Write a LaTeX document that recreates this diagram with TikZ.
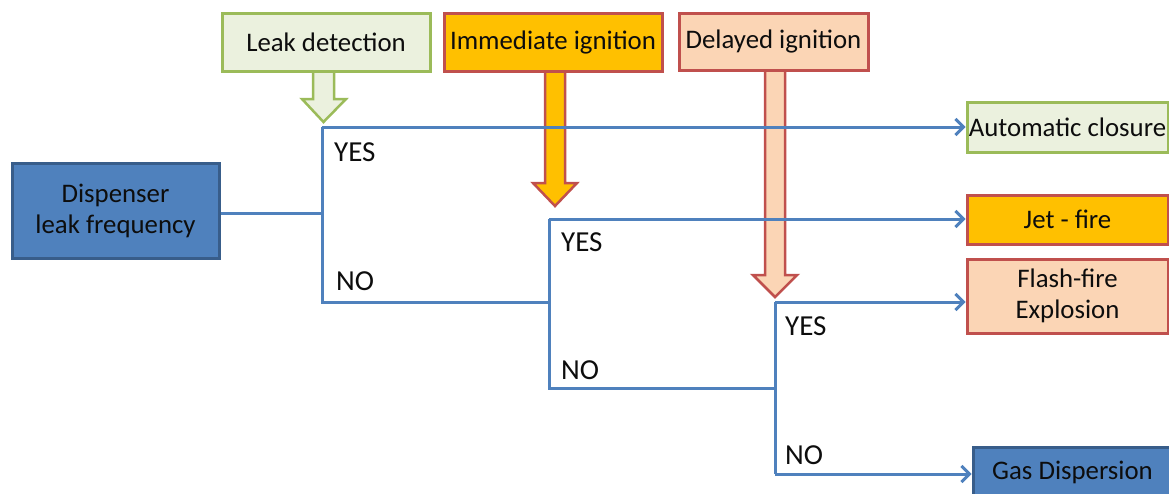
\documentclass[tikz,border=0pt]{standalone}
\usepackage{fontspec}
\setmainfont{Carlito}
\usetikzlibrary{arrows.meta}
\definecolor{gfill}{HTML}{EBF1DE}
\definecolor{gline}{HTML}{9BBB59}
\definecolor{ofill}{HTML}{FFC000}
\definecolor{rline}{HTML}{C0504D}
\definecolor{pfill}{HTML}{FBD5B5}
\definecolor{bfill}{HTML}{4F81BD}
\definecolor{bline}{HTML}{385D8A}
\definecolor{wire}{HTML}{4F81BD}
\definecolor{txt}{HTML}{0D0D0D}
\tikzset{
  box/.style={draw, line width=3pt, inner sep=0pt, align=center, text=txt,
    font=\fontsize{26.8}{31}\selectfont},
  greenbox/.style={box, fill=gfill, draw=gline},
  orangebox/.style={box, fill=ofill, draw=rline},
  peachbox/.style={box, fill=pfill, draw=rline},
  bluebox/.style={box, fill=bfill, draw=bline},
  wireline/.style={draw=wire, line width=3pt},
  wirearrow/.style={wireline, -{Straight Barb[length=8pt,width=16pt,line width=3pt]}},
  lbl/.style={anchor=west, inner sep=0pt, text=txt, font=\fontsize{29}{34}\selectfont},
  fatarrow/.style={line width=2.5pt, line join=miter},
}
\begin{document}
\begin{tikzpicture}[x=1pt,y=-1pt]
\useasboundingbox (0,0) rectangle (1169,493);
\clip (0,0) rectangle (1169,493);
% thick arrows
\draw[fatarrow, fill=gfill, draw=gline] (313,70) -- (313,99) -- (302,99) -- (323.5,122) -- (346,99) -- (334,99) -- (334,70);
\draw[fatarrow, fill=ofill, draw=rline] (545,70) -- (545,183) -- (533,183) -- (555,206) -- (577,183) -- (565,183) -- (565,70);
\draw[fatarrow, fill=pfill, draw=rline] (765,70) -- (765,275) -- (753,275) -- (775,297) -- (797,275) -- (785,275) -- (785,70);
% boxes
\node[greenbox, minimum width=208, minimum height=58] (leak) at (326,42) {Leak detection};
\node[orangebox, minimum width=218, minimum height=58] (imm) at (553,42) {Immediate ignition};
\node[peachbox, minimum width=189, minimum height=57] (del) at (773.5,41.5) {Delayed ignition};
\node[greenbox, minimum width=201, minimum height=50] (auto) at (1067.5,127) {Automatic closure};
\node[orangebox, minimum width=201, minimum height=49] (jet) at (1067.5,219.5) {Jet - fire};
\node[peachbox, minimum width=201, minimum height=74] (flash) at (1067.5,296) {Flash-fire\\Explosion};
\node[bluebox, minimum width=199, minimum height=51] (gas) at (1072.5,472.5) {Gas Dispersion};
\node[bluebox, minimum width=207, minimum height=95] (disp) at (115.5,210.5) {Dispenser\\leak frequency};
% junction coordinates
\coordinate (a1) at (322,127);
\coordinate (a2) at (322,302);
\coordinate (m1) at (322,213);
\coordinate (b1) at (549,219);
\coordinate (b2) at (549,388);
\coordinate (n1) at (549,302);
\coordinate (c1) at (775,302);
\coordinate (c2) at (775,474);
\coordinate (n2) at (775,388);
% wires
\draw[wireline] (disp.east |- m1) -- (m1);
\draw[wireline] (a1) -- (a2) -- (n1);
\draw[wirearrow] (a1) -- (auto.west);
\draw[wireline] (b1) -- (b2) -- (n2);
\draw[wirearrow] (b1) -- (b1 -| jet.west);
\draw[wireline] (c1) -- (c2);
\draw[wirearrow] (c1) -- (c1 -| flash.west);
\draw[wirearrow] (c2) -- (c2 -| gas.west);
% labels
\node[lbl] (y1) at (334,152) {YES};
\node[lbl] (no1) at (336,281) {NO};
\node[lbl] (y2) at (561,242) {YES};
\node[lbl] (no2) at (561,370) {NO};
\node[lbl] (y3) at (785,326) {YES};
\node[lbl] (no3) at (785,455) {NO};
\end{tikzpicture}
\end{document}
